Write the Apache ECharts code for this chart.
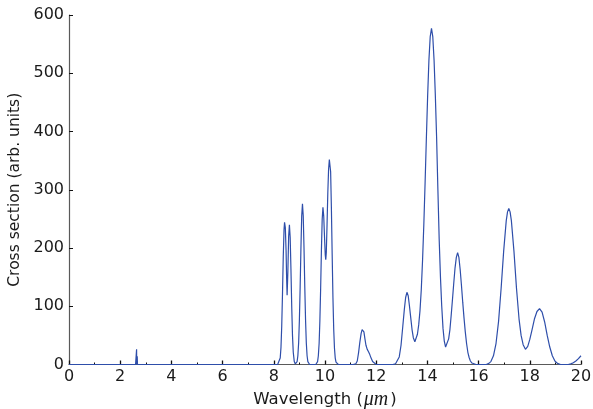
<!DOCTYPE html>
<html>
<head>
<meta charset="utf-8">
<script src="https://cdn.jsdelivr.net/npm/echarts@6/dist/echarts.min.js"></script>
<style>
  html, body { margin: 0; padding: 0; background: #fff; }
  #chart { width: 593px; height: 409px; }
</style>
</head>
<body>
<div id="chart"></div>
<script>
// Absorption cross section sampled along wavelength (µm)
const wavelength = [
  0, 2.6, 2.635, 2.64, 2.645, 2.66, 2.665, 2.675, 8.15,
  8.22, 8.25, 8.28, 8.31, 8.34, 8.37, 8.4, 8.42, 8.45, 8.48, 8.5, 8.52, 8.55, 8.58, 8.61,
  8.64, 8.67, 8.7, 8.73, 8.76, 8.8, 8.84, 8.87,
  8.91, 8.94, 8.97, 9.0, 9.03, 9.06, 9.09, 9.12, 9.15, 9.18, 9.21, 9.24, 9.27, 9.3, 9.33, 9.36, 9.4,
  9.64, 9.68, 9.71, 9.74, 9.77, 9.8, 9.83, 9.86, 9.89, 9.92, 9.95, 9.98, 10.01, 10.03, 10.05,
  10.08, 10.11, 10.14, 10.17, 10.19, 10.22, 10.25, 10.28, 10.31, 10.34, 10.37, 10.4, 10.43, 10.47, 10.52,
  11.1, 11.2, 11.26, 11.31, 11.36, 11.41, 11.45, 11.48, 11.52, 11.56, 11.6, 11.65, 11.7, 11.75, 11.8, 11.86, 11.92, 12.0,
  12.65, 12.75, 12.82, 12.9, 12.97, 13.04, 13.1, 13.15, 13.2, 13.25, 13.3, 13.35, 13.4, 13.45, 13.51,
  13.56, 13.61, 13.66, 13.71, 13.76, 13.81, 13.86, 13.91, 13.96, 14.01, 14.06, 14.11, 14.16,
  14.21, 14.26, 14.31, 14.36, 14.41, 14.46, 14.51, 14.56, 14.61, 14.66, 14.71, 14.74,
  14.78, 14.83, 14.88, 14.93, 14.98, 15.03, 15.08, 15.13, 15.18, 15.23, 15.28, 15.33, 15.38,
  15.43, 15.48, 15.53, 15.58, 15.63, 15.68, 15.74, 15.8, 15.9,
  16.3, 16.4, 16.48, 16.58, 16.68, 16.78, 16.88, 16.98, 17.08, 17.13, 17.18, 17.23, 17.28,
  17.38, 17.48, 17.58, 17.66, 17.74, 17.83, 17.92, 18.0, 18.08, 18.18, 18.28, 18.38, 18.48,
  18.58, 18.68, 18.78, 18.88, 18.98, 19.08, 19.2, 19.5, 19.6, 19.7, 19.8, 19.9, 20
];
const crossSection = [
  0, 0, 0, 26, 0, 0, 14, 0, 0,
  3, 11, 29, 66, 122, 186, 232, 244, 235, 195, 150, 119, 160, 220, 240,
  218, 163, 100, 50, 21, 5, 1, 0.5,
  5, 15, 37, 77, 134, 200, 255, 276, 255, 200, 134, 77, 37, 15, 5, 2, 0,
  0, 1.5, 5, 15, 36, 75, 131, 196, 249, 270, 255, 220, 188, 180, 192,
  240, 295, 335, 352, 355, 331, 268, 189, 115, 61, 28, 11, 4, 1, 0,
  0, 1, 6, 20, 38, 53, 60, 62, 56, 44, 33, 26, 22, 17, 11, 5, 2, 0,
  0, 1, 4, 13, 33, 66, 95, 115, 124, 118, 100, 80, 60, 46, 39,
  42, 52, 68, 92, 128, 178, 240, 312, 389, 462, 523, 563, 577,
  563, 523, 462, 389, 300, 215, 150, 100, 62, 40, 30, 29,
  32, 44, 60, 85, 112, 140, 166, 184, 192, 184, 163, 136, 107,
  80, 56, 36, 21, 12, 6, 2.5, 1, 0,
  0, 2, 5, 15, 36, 74, 131, 195, 247, 262, 268, 262, 247,
  195, 131, 78, 50, 34, 26, 31, 43, 58, 78, 91, 96, 90,
  73, 50, 30, 15, 6, 2, 0, 0, 1, 3, 6, 10, 15
];

const xTicks = { min: 0, max: 20, step: 2 };
const yTicks = { min: 0, max: 600, step: 100 };

const points = wavelength.map((w, i) => [w, crossSection[i]]);

const font = 'DejaVu Sans, Liberation Sans, sans-serif';
const axisColor = '#5a5a5a';
const textColor = '#1a1a1a';

const chart = echarts.init(document.getElementById('chart'), null, { renderer: 'canvas' });
chart.setOption({
  animation: false,
  backgroundColor: '#ffffff',
  grid: { left: 69, right: 12, top: 15, bottom: 44.5, containLabel: false, outerBoundsMode: 'none' },
  xAxis: {
    type: 'value',
    min: xTicks.min,
    max: xTicks.max,
    interval: xTicks.step,
    name: 'Wavelength ({m|μm})',
    nameLocation: 'middle',
    nameGap: 19,
    nameTextStyle: {
      fontFamily: font, fontSize: 16.5, color: textColor,
      rich: { m: { fontFamily: 'Liberation Serif, DejaVu Serif, serif', fontStyle: 'italic', fontSize: 20, color: textColor, padding: [0, 2, 0, 1] } }
    },
    axisLine: { show: true, lineStyle: { color: axisColor, width: 1.2 } },
    axisTick: { show: true, inside: true, length: 4, lineStyle: { color: '#111', width: 1.3 } },
    minorTick: { show: true, splitNumber: 2, length: 2, lineStyle: { color: '#111', width: 1 } },
    splitLine: { show: false },
    axisLabel: { fontFamily: font, fontSize: 16, color: textColor, margin: 4 }
  },
  yAxis: {
    type: 'value',
    min: yTicks.min,
    max: yTicks.max,
    interval: yTicks.step,
    name: 'Cross section (arb. units)',
    nameLocation: 'middle',
    nameGap: 43,
    nameTextStyle: { fontFamily: font, fontSize: 15.5, color: textColor },
    axisLine: { show: true, lineStyle: { color: axisColor, width: 1.2 } },
    axisTick: { show: true, inside: true, length: 4, lineStyle: { color: '#111', width: 1 } },
    splitLine: { show: false },
    axisLabel: { fontFamily: font, fontSize: 16, color: textColor, margin: 5 }
  },
  series: [{
    type: 'line',
    data: points,
    showSymbol: false,
    smooth: false,
    clip: true,
    lineStyle: { color: '#2e4eaa', width: 1.2 },
    z: 1
  }]
});
</script>
</body>
</html>
